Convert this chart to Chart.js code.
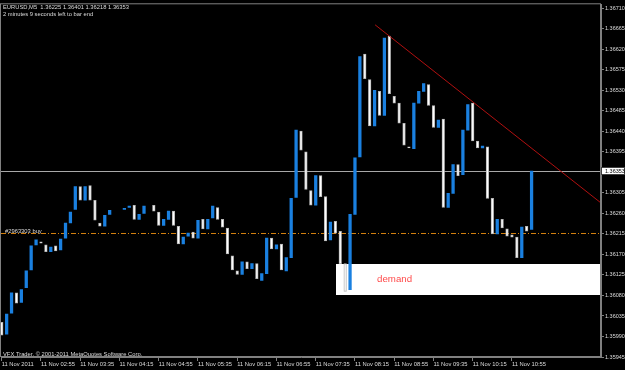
<!DOCTYPE html>
<html>
<head>
<meta charset="utf-8">
<script src="https://cdn.jsdelivr.net/npm/chart.js@4.4.1/dist/chart.umd.min.js"></script>
<style>
  html, body { margin: 0; padding: 0; background: #000; }
  canvas { display: block; }
</style>
</head>
<body>
<canvas id="mainChart" width="625" height="370"></canvas>
<script>
// EURUSD M5, 11 Nov 2011 - one bar every 5 min from 02:15 (index 0) to 11:15 (index 108)
const opens = [
    1.36021, 1.35995, 1.36041, 1.36086, 1.36065, 1.36097, 1.36136, 1.36191, 1.36198, 1.36191,
    1.36176, 1.36189, 1.36180, 1.36206, 1.36239, 1.36269, 1.36319, 1.36289, 1.36321, 1.36289,
    1.36239, 1.36232, 1.36258, null,    null,    1.36269, 1.36273, 1.36278, 1.36247, 1.36260,
    null,    1.36278, 1.36263, 1.36234, 1.36247, 1.36265, 1.36232, 1.36193, 1.36210, 1.36219,
    1.36206, 1.36247, 1.36226, 1.36250, 1.36273, 1.36247, 1.36228, 1.36167, 1.36134, 1.36126,
    1.36154, 1.36139, 1.36150, 1.36113, 1.36128, 1.36206, 1.36182, 1.36193, 1.36134, 1.36163,
    1.36295, 1.36441, 1.36395, 1.36310, 1.36278, 1.36343, 1.36297, 1.36202, 1.36243, 1.36221,
    1.36150, 1.36093, 1.36258, 1.36384, 1.36610, 1.36554, 1.36452, 1.36528, 1.36475, 1.36649,
    1.36517, 1.36502, 1.36458, 1.36406, 1.36402, 1.36502, 1.36528, 1.36543, 1.36497, 1.36449,
    1.36467, 1.36273, 1.36304, 1.36367, 1.36345, 1.36443, 1.36502, 1.36419, 1.36404, 1.36406,
    1.36293, 1.36215, 1.36247, 1.36226, 1.36213, 1.36208, 1.36163, 1.36232, 1.36225
];
const closes = [
    1.35993, 1.36039, 1.36086, 1.36063, 1.36093, 1.36134, 1.36189, 1.36202, 1.36195, 1.36176,
    1.36186, 1.36178, 1.36204, 1.36239, 1.36263, 1.36319, 1.36289, 1.36319, 1.36289, 1.36245,
    1.36232, 1.36256, 1.36267, null,    null,    1.36271, 1.36276, 1.36247, 1.36258, 1.36276,
    null,    1.36265, 1.36234, 1.36247, 1.36265, 1.36234, 1.36193, 1.36208, 1.36217, 1.36206,
    1.36245, 1.36226, 1.36247, 1.36276, 1.36247, 1.36230, 1.36171, 1.36136, 1.36126, 1.36154,
    1.36139, 1.36150, 1.36117, 1.36128, 1.36206, 1.36182, 1.36191, 1.36136, 1.36163, 1.36293,
    1.36443, 1.36399, 1.36313, 1.36278, 1.36343, 1.36297, 1.36200, 1.36241, 1.36217, 1.36150,
    1.36089, 1.36258, 1.36382, 1.36604, 1.36556, 1.36452, 1.36530, 1.36475, 1.36645, 1.36523,
    1.36502, 1.36458, 1.36410, 1.36404, 1.36502, 1.36528, 1.36545, 1.36497, 1.36449, 1.36465,
    1.36273, 1.36304, 1.36367, 1.36343, 1.36443, 1.36499, 1.36419, 1.36404, 1.36408, 1.36293,
    1.36215, 1.36247, 1.36228, 1.36210, 1.36208, 1.36163, 1.36230, 1.36221, 1.36353
];

const xTickIdx = [0, 8, 16, 24, 32, 40, 48, 56, 64, 72, 80, 88, 96, 104];
const xTickLabels = ['11 Nov 2011', '11 Nov 02:55', '11 Nov 03:35', '11 Nov 04:15', '11 Nov 04:55',
    '11 Nov 05:35', '11 Nov 06:15', '11 Nov 06:55', '11 Nov 07:35', '11 Nov 08:15',
    '11 Nov 08:55', '11 Nov 09:35', '11 Nov 10:15', '11 Nov 10:55'];
const yTicks = [1.36710, 1.36665, 1.36620, 1.36575, 1.36530, 1.36485, 1.36440, 1.36395,
    1.36305, 1.36260, 1.36215, 1.36170, 1.36125, 1.36080, 1.36035, 1.35990, 1.35945];

const lastPrice = 1.36353;
const orderPrice = 1.36217;
const trendIdx = [76.1, 122.15];
const trendPrice = [1.36674, 1.36283];
const demandIdx = [68.1, 122.15];
const demandPrice = [1.36149, 1.36082];

const UP = '#1a80e0';
const DOWN = '#ffffff';
const FRAME = '#808080';
const TEXT = '#dcdcdc';
const FONT = '"Liberation Sans", Arial, sans-serif';

const bars = [];
opens.forEach((o, i) => {
    if (o === null || closes[i] === null) return;
    bars.push({ x: i, y: [o, closes[i]] });
});

const isUp = c => c.raw && c.raw.y[1] >= c.raw.y[0];

const overlay = {
    id: 'overlay',
    beforeDatasetsDraw(chart) {
        const { ctx, chartArea: a, scales: { x, y } } = chart;
        ctx.save();
        ctx.beginPath();
        ctx.rect(a.left, a.top, a.right - a.left, a.bottom - a.top);
        ctx.clip();

        // demand zone
        const dx0 = Math.round(x.getPixelForValue(demandIdx[0]));
        const dx1 = Math.round(x.getPixelForValue(demandIdx[1]));
        const dy0 = Math.round(y.getPixelForValue(demandPrice[0]));
        const dy1 = Math.round(y.getPixelForValue(demandPrice[1]));
        ctx.fillStyle = '#ffffff';
        ctx.fillRect(dx0, dy0, dx1 - dx0, dy1 - dy0);
        ctx.fillStyle = '#ff4a4a';
        ctx.font = '9.7px ' + FONT;
        ctx.textBaseline = 'alphabetic';
        ctx.fillText('demand', x.getPixelForValue(76.5), y.getPixelForValue(1.36110));

        // bid line
        const py = Math.round(y.getPixelForValue(lastPrice)) + 0.5;
        ctx.strokeStyle = '#a8a8a8';
        ctx.lineWidth = 1;
        ctx.beginPath();
        ctx.moveTo(a.left, py);
        ctx.lineTo(a.right, py);
        ctx.stroke();

        // order line
        const oy = Math.round(y.getPixelForValue(orderPrice)) + 0.5;
        ctx.strokeStyle = '#d2800f';
        ctx.setLineDash([5, 2, 1, 2]);
        ctx.beginPath();
        ctx.moveTo(a.left, oy);
        ctx.lineTo(a.right, oy);
        ctx.stroke();
        ctx.setLineDash([]);
        ctx.fillStyle = TEXT;
        ctx.font = '5.8px ' + FONT;
        ctx.fillText('#2963303 buy', 5, oy - 1);

        ctx.restore();
    },
    afterDatasetsDraw(chart) {
        const { ctx, chartArea: a, scales: { x, y } } = chart;
        ctx.save();
        ctx.beginPath();
        ctx.rect(a.left, a.top, a.right - a.left, a.bottom - a.top);
        ctx.clip();

        // trend line
        ctx.strokeStyle = '#b01010';
        ctx.lineWidth = 1;
        ctx.beginPath();
        ctx.moveTo(x.getPixelForValue(trendIdx[0]), y.getPixelForValue(trendPrice[0]));
        ctx.lineTo(x.getPixelForValue(trendIdx[1]), y.getPixelForValue(trendPrice[1]));
        ctx.stroke();

        // header and footer texts
        ctx.fillStyle = TEXT;
        ctx.font = '5.8px ' + FONT;
        ctx.fillText('EURUSD,M5  1.36225 1.36401 1.36218 1.36353', 3, 9);
        ctx.fillText('2 minutes 9 seconds left to bar end', 3, 16);
        ctx.fillText('VFX Trader, \u00a9 2001-2011 MetaQuotes Software Corp.', 3, 356);
        ctx.restore();

        // frame
        ctx.save();
        ctx.strokeStyle = FRAME;
        ctx.lineWidth = 1;
        ctx.strokeRect(a.left - 0.5, a.top - 0.5, a.right - a.left, a.bottom - a.top);

        // current price box on the axis
        const py = Math.round(y.getPixelForValue(lastPrice));
        ctx.fillStyle = '#ffffff';
        ctx.fillRect(a.right, py - 4, 625 - a.right, 8);
        ctx.strokeStyle = '#404040';
        ctx.strokeRect(a.right + 0.5, py - 3.5, 625 - a.right - 1, 7);
        ctx.fillStyle = '#000000';
        ctx.font = '5.5px ' + FONT;
        ctx.textBaseline = 'middle';
        ctx.fillText(lastPrice.toFixed(5), a.right + 4, py + 0.5);
        ctx.restore();
    }
};

new Chart(document.getElementById('mainChart').getContext('2d'), {
    type: 'bar',
    data: {
        datasets: [{
            data: bars,
            backgroundColor: c => isUp(c) ? UP : DOWN,
            borderColor: c => isUp(c) ? UP : '#b8b8b8',
            borderWidth: c => isUp(c) ? 0 : 1,
            borderSkipped: false,
            barThickness: 2.6
        }]
    },
    options: {
        responsive: false,
        animation: false,
        layout: { padding: { left: 1, top: 1, right: 0, bottom: 0 } },
        plugins: {
            legend: { display: false },
            tooltip: { enabled: false }
        },
        scales: {
            x: {
                type: 'linear',
                offset: false,
                min: -0.15,
                max: 122.15,
                afterBuildTicks: s => { s.ticks = xTickIdx.map(v => ({ value: v })); },
                afterFit: s => { s.height = 13; },
                grid: { drawOnChartArea: false, color: FRAME, tickLength: 4, offset: false },
                border: { color: FRAME },
                ticks: {
                    autoSkip: false,
                    maxRotation: 0,
                    align: 'start',
                    padding: 0,
                    color: TEXT,
                    font: { family: FONT, size: 5.8 },
                    callback: v => xTickLabels[xTickIdx.indexOf(v)]
                }
            },
            y: {
                position: 'right',
                min: 1.35945,
                max: 1.36719,
                afterBuildTicks: s => { s.ticks = yTicks.map(v => ({ value: v })); },
                afterFit: s => { s.width = 24; },
                grid: { drawOnChartArea: false, color: FRAME, tickLength: 3 },
                border: { color: FRAME },
                ticks: {
                    autoSkip: false,
                    padding: 1,
                    color: TEXT,
                    font: { family: FONT, size: 5.5 },
                    callback: v => v.toFixed(5)
                }
            }
        }
    },
    plugins: [overlay]
});
</script>
</body>
</html>
